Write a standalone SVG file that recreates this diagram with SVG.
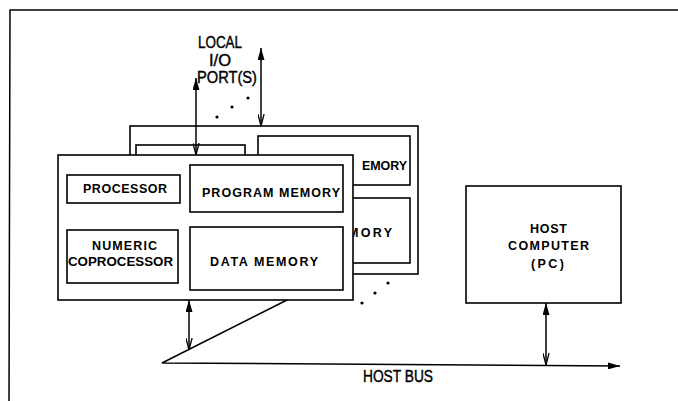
<svg xmlns="http://www.w3.org/2000/svg" width="678" height="401" viewBox="0 0 678 401">
<style>
  .box { fill: #fff; stroke: #000; stroke-width: 1.6; }
  .ln { fill: none; stroke: #000; stroke-width: 1.5; }
  .t { font-family: "Liberation Sans", Arial, sans-serif; font-size: 12.5px; font-weight: bold; fill: #000; }
  .tb { font-family: "Liberation Sans", Arial, sans-serif; font-size: 16px; fill: #000; stroke: #000; stroke-width: 0.4; }
  .dot { fill: #000; }
</style>
<defs>
  <marker id="fillHead" viewBox="0 0 12 7" refX="12" refY="3.5" markerWidth="12" markerHeight="7" markerUnits="userSpaceOnUse" orient="auto-start-reverse">
    <path d="M0,0 L12,3.5 L0,7 z" fill="#000"/>
  </marker>
  <marker id="openHead" viewBox="0 0 12 7" refX="12" refY="3.5" markerWidth="12" markerHeight="7" markerUnits="userSpaceOnUse" orient="auto">
    <path d="M0,0.4 L12,3.5 L0,6.6" fill="none" stroke="#000" stroke-width="1.3"/>
  </marker>
</defs>
<rect width="678" height="401" fill="#fff"/>
<g id="frame">
  <path class="ln" d="M678,10 L10,10 L9,401"/>
</g>
<g id="back-board">
  <rect class="box" x="130" y="126" width="288" height="148"/>
  <rect class="box" x="136" y="145" width="109" height="40"/>
  <rect class="box" x="258" y="136" width="152" height="49"/>
  <rect class="box" x="262" y="198" width="148" height="65"/>
  <text class="t" x="362" y="170" textLength="45" lengthAdjust="spacing">EMORY</text>
  <text class="t" x="348" y="237" textLength="44" lengthAdjust="spacing">MORY</text>
</g>
<g id="front-board">
  <rect class="box" x="58" y="155" width="295" height="145"/>
</g>
<g id="processor">
  <rect class="box" x="67" y="175" width="113" height="28"/>
  <text class="t" x="83" y="193" textLength="84" lengthAdjust="spacing">PROCESSOR</text>
</g>
<g id="program-memory">
  <rect class="box" x="190" y="165" width="153" height="47"/>
  <text class="t" x="202" y="197" textLength="138" lengthAdjust="spacing">PROGRAM MEMORY</text>
</g>
<g id="numeric-coprocessor">
  <rect class="box" x="67" y="230" width="111" height="53"/>
  <text class="t" x="92" y="250" textLength="65" lengthAdjust="spacing">NUMERIC</text>
  <text class="t" x="68" y="266" textLength="105" lengthAdjust="spacingAndGlyphs">COPROCESSOR</text>
</g>
<g id="data-memory">
  <rect class="box" x="190" y="227" width="153" height="63"/>
  <text class="t" x="210" y="266" textLength="108" lengthAdjust="spacing">DATA MEMORY</text>
</g>
<g id="host-computer">
  <rect class="box" x="466" y="186" width="155" height="117"/>
  <text class="t" x="530" y="233" textLength="37" lengthAdjust="spacing">HOST</text>
  <text class="t" x="508" y="250" textLength="81" lengthAdjust="spacing">COMPUTER</text>
  <text class="t" x="531" y="268" textLength="33" lengthAdjust="spacing">(PC)</text>
</g>
<g id="labels">
  <text class="tb" x="198" y="48" textLength="44" lengthAdjust="spacingAndGlyphs">LOCAL</text>
  <text class="tb" x="209" y="66" textLength="22" lengthAdjust="spacingAndGlyphs">I/O</text>
  <text class="tb" x="197" y="83" textLength="60" lengthAdjust="spacingAndGlyphs">PORT(S)</text>
  <text class="tb" x="363" y="382" textLength="70" lengthAdjust="spacingAndGlyphs">HOST BUS</text>
</g>
<g id="connectors">
  <line class="ln" x1="196" y1="78" x2="196" y2="155" marker-start="url(#fillHead)" marker-end="url(#openHead)"/>
  <line class="ln" x1="261" y1="48" x2="261" y2="126" marker-start="url(#fillHead)" marker-end="url(#openHead)"/>
  <line class="ln" x1="189" y1="300" x2="189" y2="350" marker-start="url(#fillHead)" marker-end="url(#openHead)"/>
  <line class="ln" x1="546" y1="303" x2="546" y2="365" marker-start="url(#fillHead)" marker-end="url(#openHead)"/>
  <path class="ln" d="M287,300 L162,363 L620,366" marker-end="url(#fillHead)"/>
  <circle class="dot" cx="217" cy="117" r="1.6"/>
  <circle class="dot" cx="232" cy="107" r="1.6"/>
  <circle class="dot" cx="248" cy="98" r="1.6"/>
  <circle class="dot" cx="362" cy="303" r="1.6"/>
  <circle class="dot" cx="375" cy="293" r="1.6"/>
  <circle class="dot" cx="388" cy="283" r="1.6"/>
</g>
</svg>
